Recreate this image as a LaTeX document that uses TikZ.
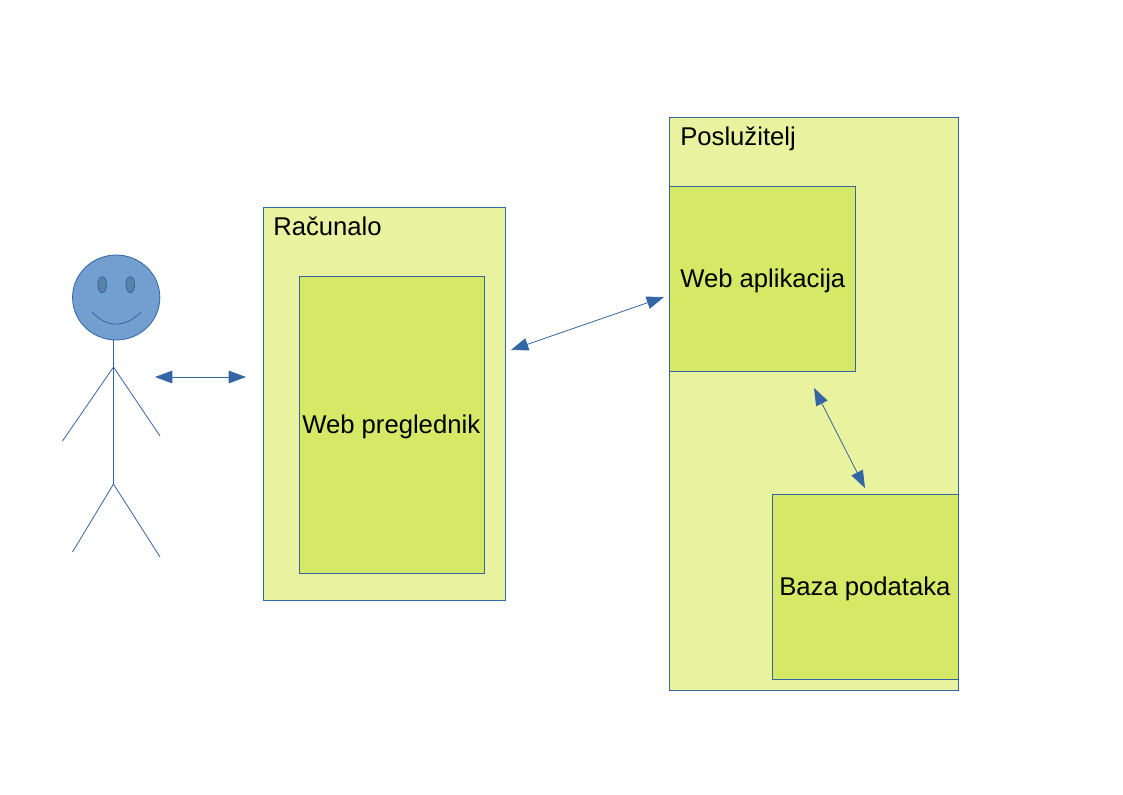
\documentclass[tikz,border=0pt]{standalone}
\usepackage{fontspec}
\setmainfont{Liberation Sans}
\usetikzlibrary{arrows.meta,shapes.geometric}
\definecolor{edgeblue}{HTML}{3465A4}
\definecolor{lightbox}{HTML}{E9F29F}
\definecolor{innerbox}{HTML}{D5E966}
\definecolor{facefill}{HTML}{729FCF}
\definecolor{eyefill}{HTML}{5C81A6}
\tikzset{
  x=0.75pt,y=-0.75pt,
  boxbase/.style={draw=edgeblue,line width=0.6pt,anchor=north west,inner sep=0pt,outer sep=0pt},
  outerbox/.style={boxbase,fill=lightbox},
  innerb/.style={boxbase,fill=innerbox},
  lbl/.style={anchor=base west,inner sep=0pt,font=\fontsize{19.25}{23}\selectfont,text=black},
  figure line/.style={draw=edgeblue,line width=0.6pt},
  dblarrow/.style={draw=edgeblue,line width=0.6pt,{Triangle[length=13pt,width=9.5pt,fill=edgeblue]}-{Triangle[length=13pt,width=9.5pt,fill=edgeblue]}}
}
\begin{document}
\begin{tikzpicture}
\useasboundingbox (0,0) rectangle (1123,794);
% boxes
\node[outerbox,minimum width=181.5pt,minimum height=294.75pt] (comp) at (263.5,207.5) {};
\node[innerb,minimum width=138.75pt,minimum height=222.75pt] (browser) at (299.5,276.5) {};
\node[outerbox,minimum width=216.75pt,minimum height=429.75pt] (server) at (669.5,117.5) {};
\node[innerb,minimum width=139.5pt,minimum height=138.75pt] (app) at (669.5,186.5) {};
\node[innerb,minimum width=139.5pt,minimum height=138.75pt] (db) at (772.5,494.5) {};
% labels
\node[lbl] (lcomp) at (273,235) {Računalo};
\node[lbl] (lbrowser) at (302,433.5) {Web preglednik};
\node[lbl] (lserver) at (680,145) {Poslužitelj};
\node[lbl] (lapp) at (680,287.5) {Web aplikacija};
\node[lbl] (ldb) at (779,595.5) {Baza podataka};
% person
\node[ellipse,draw=edgeblue,fill=facefill,line width=0.6pt,minimum width=65.5pt,minimum height=63.75pt,inner sep=0pt] (head) at (116.2,297.5) {};
\node[ellipse,draw=edgeblue,fill=eyefill,line width=0.6pt,minimum width=6.5pt,minimum height=12pt,inner sep=0pt] (eyeL) at (102.2,284.7) {};
\node[ellipse,draw=edgeblue,fill=eyefill,line width=0.6pt,minimum width=6.5pt,minimum height=12pt,inner sep=0pt] (eyeR) at (130.3,284.7) {};
\draw[figure line] (92.3,312.3) .. controls (107,328) and (125,328) .. (140.7,312.3);
\coordinate (neck) at (113.5,340);
\coordinate (shoulder) at (113.5,367);
\coordinate (hip) at (113.5,484);
\coordinate (handL) at (62.5,441);
\coordinate (handR) at (160,436);
\coordinate (footL) at (72.5,552);
\coordinate (footR) at (160,557);
\draw[figure line] (neck) -- (hip);
\draw[figure line] (handL) -- (shoulder) -- (handR);
\draw[figure line] (footL) -- (hip) -- (footR);
% arrows
\coordinate (a1) at (155,377);
\coordinate (a2) at (246,377);
\coordinate (b1) at (511,350);
\coordinate (b2) at (664,297);
\coordinate (c1) at (814,388);
\coordinate (c2) at (865,488);
\draw[dblarrow] (a1) -- (a2);
\draw[dblarrow] (b1) -- (b2);
\draw[dblarrow] (c1) -- (c2);
\end{tikzpicture}
\end{document}
